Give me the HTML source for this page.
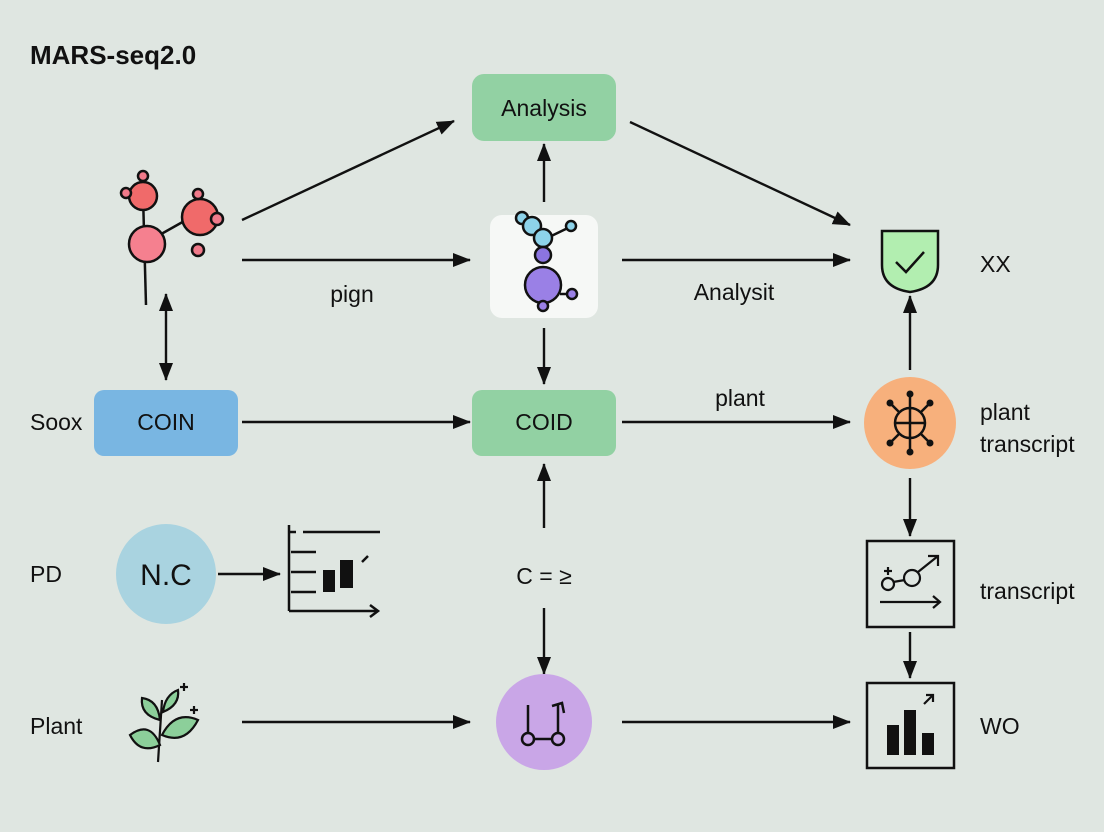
<!DOCTYPE html>
<html><head><meta charset="utf-8"><style>
html,body{margin:0;padding:0;background:#dfe6e1}
svg{display:block}
text{font-family:"Liberation Sans",sans-serif;fill:#111}
</style></head><body>
<svg width="1104" height="832" viewBox="0 0 1104 832" xmlns="http://www.w3.org/2000/svg">
<defs>
<marker id="as" markerWidth="18" markerHeight="18" refX="17" refY="9" orient="auto-start-reverse" markerUnits="userSpaceOnUse" viewBox="0 0 18 18"><path d="M0,2 L18,9 L0,16 z" fill="#111"/></marker>
</defs>
<rect width="1104" height="832" fill="#dfe6e1"/>
<text x="30" y="64" font-size="26" font-weight="bold">MARS-seq2.0</text>
<g stroke="#111" stroke-width="2.4" fill="none">
<line x1="242" y1="220" x2="454" y2="121" marker-end="url(#as)"/>
<line x1="630" y1="122" x2="850" y2="225" marker-end="url(#as)"/>
<line x1="544" y1="202" x2="544" y2="144" marker-end="url(#as)"/>
<line x1="242" y1="260" x2="470" y2="260" marker-end="url(#as)"/>
<line x1="622" y1="260" x2="850" y2="260" marker-end="url(#as)"/>
<line x1="910" y1="370" x2="910" y2="296" marker-end="url(#as)"/>
<line x1="166" y1="294" x2="166" y2="380" marker-end="url(#as)" marker-start="url(#as)"/>
<line x1="242" y1="422" x2="470" y2="422" marker-end="url(#as)"/>
<line x1="544" y1="328" x2="544" y2="384" marker-end="url(#as)"/>
<line x1="622" y1="422" x2="850" y2="422" marker-end="url(#as)"/>
<line x1="910" y1="478" x2="910" y2="536" marker-end="url(#as)"/>
<line x1="910" y1="632" x2="910" y2="678" marker-end="url(#as)"/>
<line x1="218" y1="574" x2="280" y2="574" marker-end="url(#as)"/>
<line x1="544" y1="528" x2="544" y2="464" marker-end="url(#as)"/>
<line x1="544" y1="608" x2="544" y2="674" marker-end="url(#as)"/>
<line x1="242" y1="722" x2="470" y2="722" marker-end="url(#as)"/>
<line x1="622" y1="722" x2="850" y2="722" marker-end="url(#as)"/>
</g>
<rect x="472" y="74" width="144" height="67" rx="12" fill="#92d1a3"/>
<text x="544" y="116" font-size="23" text-anchor="middle">Analysis</text>
<g stroke="#111" stroke-width="2.5">
<line x1="143" y1="195" x2="146" y2="305"/>
<line x1="147" y1="242" x2="195" y2="215"/>
<circle cx="143" cy="196" r="14" fill="#f06a6a"/>
<circle cx="126" cy="193" r="5" fill="#f07a8a"/>
<circle cx="143" cy="176" r="5" fill="#f07a8a"/>
<circle cx="147" cy="244" r="18" fill="#f5808f"/>
<circle cx="200" cy="217" r="18" fill="#f06a6a"/>
<circle cx="198" cy="194" r="5" fill="#f07a8a"/>
<circle cx="217" cy="219" r="6" fill="#f07a8a"/>
<circle cx="198" cy="250" r="6" fill="#f07a8a"/>
</g>
<rect x="490" y="215" width="108" height="103" rx="12" fill="#f6f8f6"/>
<g stroke="#111" stroke-width="2.5">
<line x1="543" y1="240" x2="572" y2="226"/>
<circle cx="522" cy="218" r="6" fill="#8dd3ea"/>
<circle cx="532" cy="226" r="9" fill="#8dd3ea"/>
<circle cx="543" cy="238" r="9" fill="#8dd3ea"/>
<circle cx="571" cy="226" r="5" fill="#8dd3ea"/>
<circle cx="543" cy="255" r="8" fill="#8b74e0"/>
<line x1="560" y1="294" x2="572" y2="294"/>
<circle cx="543" cy="285" r="18" fill="#9a80e6"/>
<circle cx="572" cy="294" r="5" fill="#9a80e6"/>
<circle cx="543" cy="306" r="5" fill="#9a80e6"/>
</g>
<text x="352" y="302" font-size="23" text-anchor="middle">pign</text>
<text x="734" y="300" font-size="23" text-anchor="middle">Analysit</text>
<path d="M882,231 L938,231 L938,265 Q938,288 910,292 Q882,288 882,265 Z" fill="#b2eeb0" stroke="#111" stroke-width="2.5"/>
<path d="M896,262 L906,272 L924,252" fill="none" stroke="#111" stroke-width="2.5"/>
<text x="980" y="272" font-size="23">XX</text>
<text x="30" y="430" font-size="23">Soox</text>
<rect x="94" y="390" width="144" height="66" rx="10" fill="#79b6e2"/>
<text x="166" y="430" font-size="23" text-anchor="middle">COIN</text>
<rect x="472" y="390" width="144" height="66" rx="10" fill="#92d1a3"/>
<text x="544" y="430" font-size="23" text-anchor="middle">COID</text>
<text x="740" y="406" font-size="23" text-anchor="middle">plant</text>
<circle cx="910" cy="423" r="46" fill="#f7b07c"/>
<g stroke="#111" stroke-width="2.5" fill="none">
<circle cx="910" cy="423" r="15"/>
<line x1="895" y1="423" x2="925" y2="423"/><line x1="910" y1="408" x2="910" y2="438"/>
<line x1="910" y1="408" x2="910" y2="395"/><line x1="910" y1="438" x2="910" y2="452"/>
<line x1="899" y1="412" x2="890" y2="403"/><line x1="921" y1="412" x2="930" y2="403"/>
<line x1="899" y1="434" x2="890" y2="443"/><line x1="921" y1="434" x2="930" y2="443"/>
</g>
<g fill="#111"><circle cx="910" cy="394" r="3.5"/><circle cx="910" cy="452" r="3.5"/><circle cx="890" cy="403" r="3.5"/><circle cx="930" cy="403" r="3.5"/><circle cx="890" cy="443" r="3.5"/><circle cx="930" cy="443" r="3.5"/></g>
<text x="980" y="420" font-size="23">plant</text>
<text x="980" y="452" font-size="23">transcript</text>
<rect x="867" y="541" width="87" height="86" fill="none" stroke="#111" stroke-width="2.5"/>
<g stroke="#111" stroke-width="2.2" fill="none">
<circle cx="888" cy="584" r="6"/><circle cx="912" cy="578" r="8"/>
<line x1="893" y1="582" x2="905" y2="580"/><line x1="918" y1="572" x2="938" y2="556"/>
<path d="M928,556 L938,556 L938,566"/>
<line x1="880" y1="602" x2="940" y2="602"/><path d="M933,596 L940,602 L933,608"/>
<line x1="884" y1="571" x2="892" y2="571"/><line x1="888" y1="567" x2="888" y2="575"/>
</g>
<text x="980" y="599" font-size="23">transcript</text>
<rect x="867" y="683" width="87" height="85" fill="none" stroke="#111" stroke-width="2.5"/>
<g fill="#111"><rect x="887" y="725" width="12" height="30"/><rect x="904" y="710" width="12" height="45"/><rect x="922" y="733" width="12" height="22"/></g>
<g stroke="#111" stroke-width="2.2" fill="none"><line x1="924" y1="704" x2="933" y2="695"/><path d="M926,695 L933,695 L933,702"/></g>
<text x="980" y="734" font-size="23">WO</text>
<text x="30" y="582" font-size="23">PD</text>
<circle cx="166" cy="574" r="50" fill="#a9d3e0"/>
<text x="166" y="585" font-size="30" text-anchor="middle">N.C</text>
<g stroke="#111" stroke-width="2.5" fill="none">
<line x1="289" y1="525" x2="289" y2="611"/><line x1="289" y1="611" x2="378" y2="611"/>
<path d="M370,605 L378,611 L370,617"/>
<line x1="303" y1="532" x2="380" y2="532"/>
<line x1="289" y1="532" x2="296" y2="532"/>
<line x1="291" y1="552" x2="316" y2="552"/>
<line x1="291" y1="572" x2="316" y2="572"/>
<line x1="291" y1="592" x2="316" y2="592"/>
<line x1="362" y1="562" x2="368" y2="556"/>
</g>
<g fill="#111"><rect x="323" y="570" width="12" height="22"/><rect x="340" y="560" width="13" height="28"/></g>
<text x="544" y="584" font-size="23" text-anchor="middle">C = ≥</text>
<circle cx="544" cy="722" r="48" fill="#c9a6e7"/>
<g stroke="#111" stroke-width="2.5" fill="none">
<circle cx="528" cy="739" r="6"/><circle cx="558" cy="739" r="6"/>
<line x1="534" y1="739" x2="552" y2="739"/>
<line x1="528" y1="733" x2="528" y2="705"/>
<line x1="558" y1="733" x2="558" y2="705"/>
<path d="M552,706 L562,703 L564,713" />
</g>
<text x="30" y="734" font-size="23">Plant</text>
<g stroke="#111" stroke-width="2.2">
<path d="M158,762 Q160,730 162,700" fill="none"/>
<path d="M160,745 Q140,755 130,735 Q150,720 160,745 Z" fill="#8ccf9a"/>
<path d="M162,735 Q185,745 198,720 Q175,710 162,735 Z" fill="#8ccf9a"/>
<path d="M160,720 Q140,715 142,698 Q158,700 160,720 Z" fill="#8ccf9a"/>
<path d="M163,712 Q180,705 178,690 Q165,695 163,712 Z" fill="#8ccf9a"/>
<line x1="180" y1="687" x2="188" y2="687"/><line x1="184" y1="683" x2="184" y2="691"/>
<line x1="190" y1="710" x2="198" y2="710"/><line x1="194" y1="706" x2="194" y2="714"/>
</g>
</svg>
</body></html>
